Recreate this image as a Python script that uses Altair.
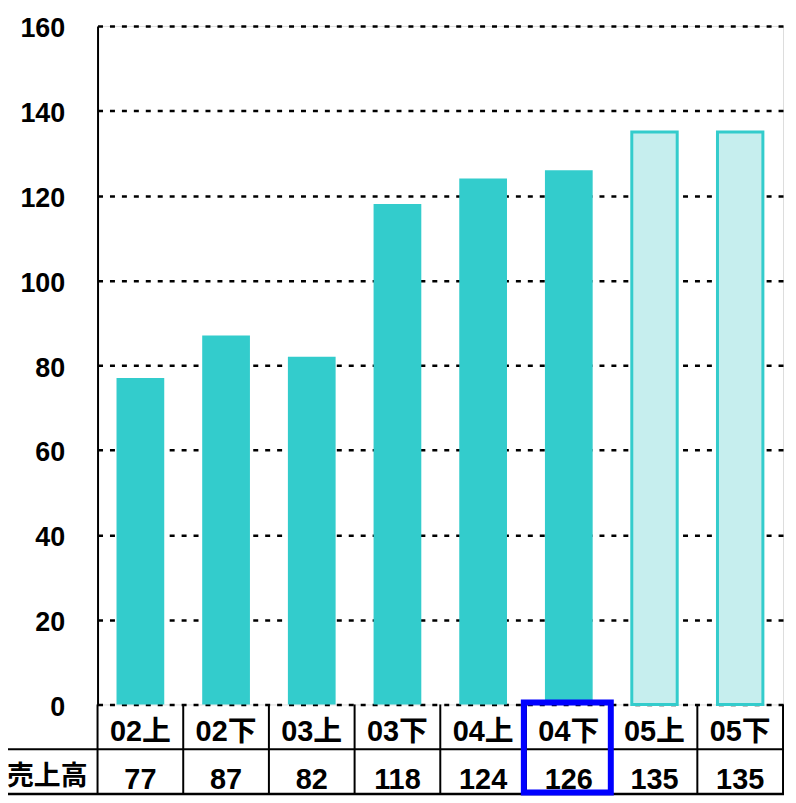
import altair as alt
import pandas as pd

categories = ["02上", "02下", "03上", "03下", "04上", "04下", "05上", "05下"]
values = [77, 87, 82, 118, 124, 126, 135, 135]
is_forecast = [False, False, False, False, False, False, True, True]
highlight = ["04下"]
row_label = ["売上高"]
y_ticks = [0, 20, 40, 60, 80, 100, 120, 140, 160]

FONT = "Liberation Sans, Noto Sans CJK JP"
W, H = 689, 682

df = pd.DataFrame({"cat": categories, "value": values, "forecast": is_forecast})
df_hl = pd.DataFrame({"cat": highlight})
df_lab = pd.DataFrame({"label": row_label})
df_one = pd.DataFrame({"k": [0]})

xscale = alt.Scale(domain=categories, paddingInner=0, paddingOuter=0)
X = alt.X("cat:N", scale=xscale, axis=None, sort=categories)

yenc = alt.Y(
    "value:Q",
    scale=alt.Scale(domain=[0, 160], nice=False),
    axis=alt.Axis(
        values=y_ticks, title=None, ticks=False, labelFontSize=27,
        labelFont=FONT, labelFontWeight="bold", labelColor="black",
        labelPadding=33, labelOffset=3,
        domain=True, domainColor="black", domainWidth=2,
        grid=True, gridColor="black", gridDash=[5, 7], gridWidth=2.5,
    ),
)

base = alt.Chart(df)

actual = base.transform_filter("!datum.forecast").mark_bar(
    width=alt.RelativeBandSize(0.557), color="#33CCCC"
).encode(x=X, y=yenc)

forecast = base.transform_filter("datum.forecast").mark_bar(
    width=alt.RelativeBandSize(0.53), fill="#c6eeee", stroke="#33CCCC", strokeWidth=3
).encode(x=X, y=alt.Y("value:Q"))

vlines = base.mark_rule(color="black", strokeWidth=2).encode(
    x=alt.X("cat:N", scale=xscale, axis=None, sort=categories, bandPosition=0),
    y=alt.value(H), y2=alt.value(H + 90),
)
right_line = alt.Chart(df_one).mark_rule(color="black", strokeWidth=2).encode(
    x=alt.value(W), y=alt.value(H), y2=alt.value(H + 90)
)
hline1 = alt.Chart(df_one).mark_rule(color="black", strokeWidth=2).encode(
    x=alt.value(-98), x2=alt.value(W + 1), y=alt.value(H + 45)
)
hline2 = alt.Chart(df_one).mark_rule(color="black", strokeWidth=2.5).encode(
    x=alt.value(-98), x2=alt.value(W + 1), y=alt.value(H + 90)
)

cat_text = base.mark_text(
    font=FONT, fontSize=29, fontWeight="bold", color="black", baseline="alphabetic"
).encode(x=X, text="cat:N", y=alt.value(H + 37))

val_text = base.mark_text(
    font=FONT, fontSize=29, fontWeight="bold", color="black", baseline="alphabetic"
).encode(x=X, text="value:Q", y=alt.value(H + 85))

lab_text = alt.Chart(df_lab).mark_text(
    font="Noto Sans CJK JP", fontSize=27, fontWeight="bold", color="black",
    align="right", baseline="alphabetic",
).encode(text="label:N", x=alt.value(-10), y=alt.value(H + 81))

hl_box = alt.Chart(df_hl).mark_bar(
    width=alt.RelativeBandSize(1.015), filled=False, stroke="#0000FF",
    strokeWidth=6, xOffset=-1.5,
).encode(x=X, y=alt.value(H - 2), y2=alt.value(H + 88.5))

chart = alt.layer(
    actual, forecast, vlines, right_line, hline1, hline2,
    cat_text, val_text, lab_text, hl_box,
).properties(
    width=W, height=H,
    padding={"left": 90, "top": 16, "right": 5, "bottom": 96},
    autosize=alt.AutoSizeParams(type="none"),
).configure_view(
    stroke="black", strokeWidth=2
).configure(background="white")

chart.save("out.html", embed_options={"renderer": "svg", "actions": False})
